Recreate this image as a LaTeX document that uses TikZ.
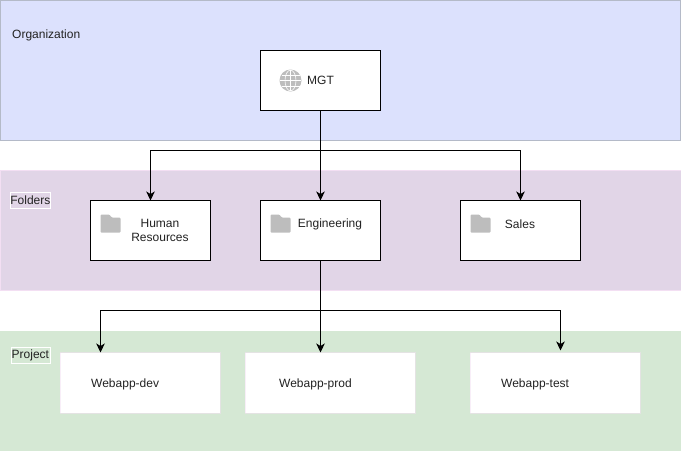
\documentclass[tikz,border=0pt]{standalone}
\usepackage{fontspec}
\setmainfont{Liberation Sans}
\usetikzlibrary{arrows.meta}
\definecolor{orgfill}{HTML}{DCE1FD}
\definecolor{orgline}{HTML}{B4BAC8}
\definecolor{foldfill}{HTML}{E1D5E7}
\definecolor{foldline}{HTML}{F3DFF3}
\definecolor{projfill}{HTML}{D5E8D4}
\definecolor{iconc}{HTML}{BDBDBD}
\definecolor{txt}{HTML}{222222}
\tikzset{
  x=1pt,y=-1pt,
  band/.style={draw=#1,line width=0.8pt,inner sep=0pt,outer sep=0pt,anchor=north west},
  blackbox/.style={draw=black,fill=white,line width=1pt,minimum width=120pt,minimum height=60pt,inner sep=0pt,outer sep=0pt},
  projbox/.style={draw=foldline,draw opacity=0.5,fill=white,line width=0.8pt,minimum height=60.5pt,inner sep=0pt,outer sep=0pt},
  lbl/.style={font=\fontsize{12}{14.5}\selectfont,text=txt,inner sep=0pt,align=center},
  tag/.style={lbl,draw=white,line width=0.8pt,inner sep=0pt,minimum height=16pt},
  link/.style={draw=black,line width=1pt,-{Stealth[length=9pt,width=8.5pt,inset=2.5pt]}},
}
\newcommand{\foldericon}[2]{%
  \fill[iconc,rounded corners=1pt] (#1,#2+18) -- (#1,#2) -- (#1+9,#2) -- (#1+11,#2+3) -- (#1+20,#2+3) -- (#1+20,#2+18) -- cycle;}
\begin{document}
\begin{tikzpicture}
\useasboundingbox (0,0) rectangle (681,451);
% bands
\node[band=orgline,fill=orgfill,minimum width=680pt,minimum height=140pt] (org) at (0.5,0.5) {};
\node[band=foldline,fill=foldfill,minimum width=681pt,minimum height=120pt] (fold) at (0,170.5) {};
\node[band=projfill,fill=projfill,minimum width=681pt,minimum height=119pt] (proj) at (0,331) {};
% boxes
\node[blackbox] (mgt) at (320.5,80.5) {};
\node[blackbox] (hr) at (150.5,230.5) {};
\node[blackbox] (eng) at (320.5,230.5) {};
\node[blackbox] (sales) at (520.5,230.5) {};
\node[projbox,minimum width=160pt] (dev) at (140,383) {};
\node[projbox,minimum width=170pt] (prod) at (330,383) {};
\node[projbox,minimum width=170pt] (test) at (555,383) {};
% routing points
\coordinate (mj) at (320.5,150.5);
\coordinate (ej) at (320.5,310.5);
\coordinate (devin) at (100.5,352.5);
\coordinate (prodin) at (320.5,352.5);
\coordinate (testin) at (560.5,350.5);
% connectors
\draw[link] (mgt.south) -- (mj) -| (hr.north);
\draw[link] (mgt.south) -- (eng.north);
\draw[link] (mj) -| (sales.north);
\draw[link] (eng.south) -- (ej) -| (devin);
\draw[link] (eng.south) -- (prodin);
\draw[link] (ej) -| (testin);
% icons
\foldericon{100.5}{214.5}
\foldericon{270.5}{214.5}
\foldericon{470.5}{214.5}
\fill[iconc] (290.5,80.5) circle[radius=11];
\begin{scope}[white,line width=0.6pt]
  \draw (279.7,80.5) -- (301.3,80.5);
  \draw (281.5,75) -- (299.5,75);
  \draw (281.5,86) -- (299.5,86);
  \draw (290.5,70) -- (290.5,91);
  \draw (290.5,80.5) ellipse[x radius=5.5,y radius=10.4];
\end{scope}
% labels
\node[lbl,anchor=west] (orglbl) at (12,35) {Organization};
\node[tag,anchor=west,minimum width=40pt] (foldlbl) at (10,200) {Folders};
\node[tag,anchor=west,minimum width=39pt] (projlbl) at (10.5,355) {Project};
\node[lbl,anchor=west] (mgtlbl) at (307,80) {MGT};
\node[lbl] (hrlbl) at (160,230.5) {Human\\Resources};
\node[lbl] (englbl) at (330,224.5) {Engineering};
\node[lbl] (saleslbl) at (520,224.5) {Sales};
\node[lbl,anchor=west] (devlbl) at (91,384.5) {Webapp-dev};
\node[lbl,anchor=west] (prodlbl) at (279,384.5) {Webapp-prod};
\node[lbl,anchor=west] (testlbl) at (501,384.5) {Webapp-test};
\end{tikzpicture}
\end{document}
